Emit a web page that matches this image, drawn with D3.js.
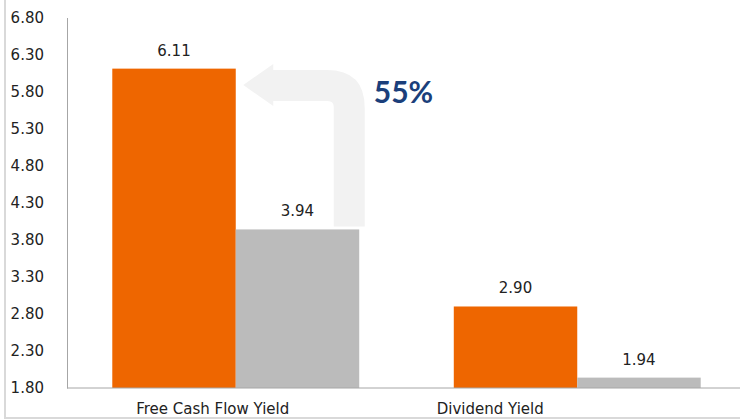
<!DOCTYPE html>
<html><head><meta charset="utf-8">
<script src="https://cdn.jsdelivr.net/npm/d3@7"></script>
<style>body{margin:0;background:#fff;}svg{display:block;font-family:"DejaVu Sans",sans-serif;}</style>
</head><body><svg id="c" width="740" height="420"></svg>
<script>
const categories = ["Free Cash Flow Yield", "Dividend Yield"];
const seriesNames = ["Company", "Peers"];
const companyValues = [6.11, 2.90];
const peerValues = [3.94, 1.94];
const yTicks = [1.80, 2.30, 2.80, 3.30, 3.80, 4.30, 4.80, 5.30, 5.80, 6.30, 6.80];
const annotation = "55%";
const colors = ["#EE6600", "#BBBBBB"];

(function(){
const svg = d3.select("#c");
const mLeft = 67, mTop = 17.5, mBottom = 388;
const y = d3.scaleLinear().domain([1.8, 6.8]).range([mBottom, mTop]);
const x0 = d3.scaleBand().domain(categories).range([mLeft - 2, 748]).padding(0);
const x1 = d3.scaleBand().domain(seriesNames).range([0, x0.bandwidth()]).paddingInner(0).paddingOuter(0.383);

const data = categories.map((c, i) => ({cat: c, vals: [companyValues[i], peerValues[i]]}));

// frame (behind labels)
svg.append("line").attr("x1", 5).attr("x2", 5).attr("y1", 0).attr("y2", 418).attr("stroke", "#D9D9D9").attr("stroke-width", 2);
svg.append("line").attr("x1", 4).attr("x2", 740).attr("y1", 418).attr("y2", 418).attr("stroke", "#D9D9D9").attr("stroke-width", 2);

// arrow annotation (behind)
const ox = x0(categories[0]);
const tipX = ox + x1("Company") + x1.bandwidth() + 7.5;
const shaftL = ox + x1("Peers") + 98, shaftR = shaftL + 31;
const hTop = 70, hBot = 101, headTop = 64, headBot = 106, headBase = tipX + 30;
const shaftBottom = y(peerValues[0]) - 3;
const R = 38, r = 6;
const p = d3.path();
p.moveTo(shaftL, shaftBottom);
p.lineTo(shaftL, hBot + r);
p.quadraticCurveTo(shaftL, hBot, shaftL - r, hBot);
p.lineTo(headBase, hBot);
p.lineTo(headBase, headBot);
p.lineTo(tipX, (headTop + headBot) / 2);
p.lineTo(headBase, headTop);
p.lineTo(headBase, hTop);
p.lineTo(shaftR - R, hTop);
p.quadraticCurveTo(shaftR, hTop, shaftR, hTop + R);
p.lineTo(shaftR, shaftBottom);
p.closePath();
svg.append("path").attr("d", p.toString()).attr("fill", "#F2F2F2");

// bars
const g = svg.append("g");
data.forEach(d => {
  d.vals.forEach((v, j) => {
    const bx = x0(d.cat) + x1(seriesNames[j]);
    g.append("rect").attr("x", bx).attr("y", y(v)).attr("width", x1.bandwidth())
      .attr("height", mBottom - y(v)).attr("fill", colors[j]);
    g.append("text").attr("x", bx + x1.bandwidth() / 2).attr("y", y(v) - 13)
      .attr("text-anchor", "middle").attr("font-size", 15).attr("fill", "#222")
      .text(v.toFixed(2));
  });
});

// y axis
const yAxis = d3.axisLeft(y).tickValues(yTicks).tickFormat(d3.format(".2f")).tickSize(0).tickSizeOuter(0).tickPadding(23);
const ya = svg.append("g").attr("transform", `translate(${mLeft},0)`).call(yAxis);
ya.select(".domain").attr("stroke", "#A6A6A6");
ya.selectAll("text").attr("font-size", 15).attr("fill", "#222").attr("font-family", '"DejaVu Sans",sans-serif');

// x axis line
svg.append("line").attr("x1", mLeft).attr("x2", 740).attr("y1", mBottom).attr("y2", mBottom).attr("stroke", "#A6A6A6");

// category labels
const labelShift = [-23, -87];
categories.forEach((c, i) => {
  svg.append("text").attr("x", x0(c) + x0.bandwidth() / 2 + labelShift[i]).attr("y", 414)
    .attr("text-anchor", "middle").attr("font-size", 15).attr("fill", "#222").text(c);
});

// annotation text
svg.append("text").attr("x", shaftR + 9).attr("y", 103).attr("font-size", 30).attr("font-weight", "bold")
  .attr("font-family", "Lato, sans-serif").attr("fill", "#1B3F7B").text(annotation);
})();
</script></body></html>
